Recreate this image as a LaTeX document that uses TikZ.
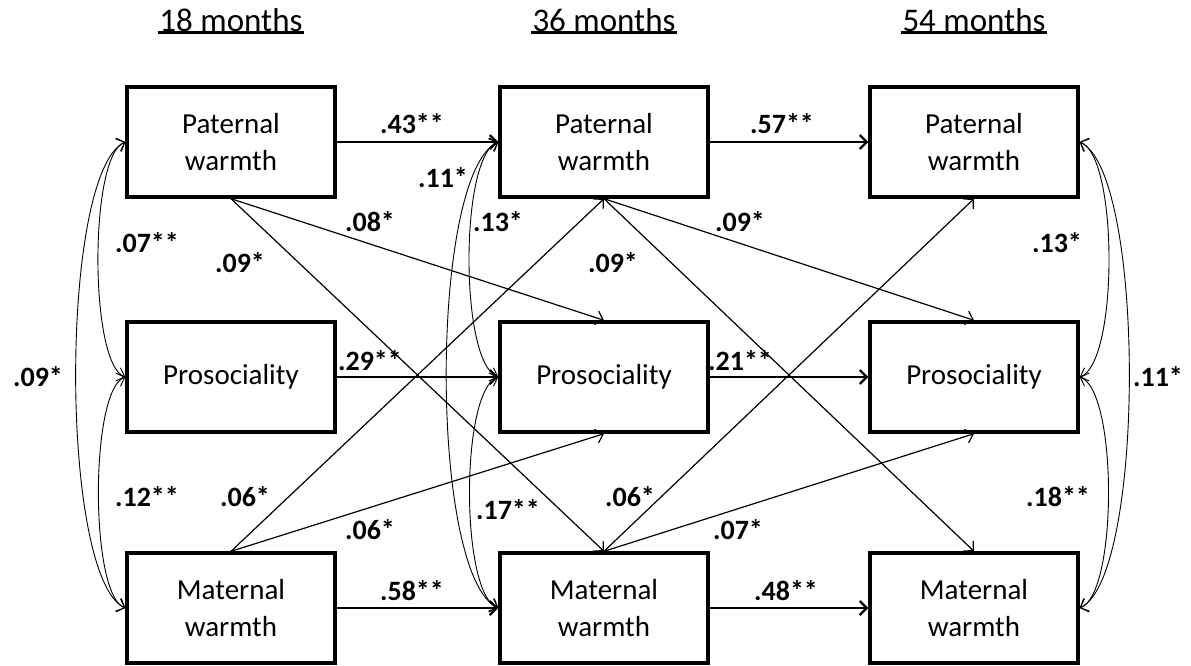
\documentclass[tikz,border=0pt]{standalone}
\usepackage{fontspec}
\setmainfont{Carlito}
\usetikzlibrary{arrows.meta}

\tikzset{
  box/.style={draw, line width=3.4pt, minimum width=208pt, minimum height=110pt,
    align=center, inner sep=0pt, font=\fontsize{29}{37}\selectfont},
  head/.style={font=\fontsize{33}{38}\selectfont, inner sep=1pt},
  ul/.style={line width=2.8pt},
  coef/.style={font=\bfseries\fontsize{28}{34}\selectfont, inner sep=1pt},
  barb/.tip={Straight Barb[length=7pt,width=14pt]},
  path/.style={-barb, line width=2.2pt},
  cross/.style={-barb, line width=1.2pt},
  cov/.style={barb-barb, line width=0.9pt}
}

\begin{document}
\begin{tikzpicture}[x=1pt,y=-1pt]
    \useasboundingbox (0,0) rectangle (1191,666);

    % waves
    \foreach \c/\x/\m in {1/231/18,2/604/36,3/974/54} {
        \node[head] (t\c) at (\x,20) {\m{} months};
        \draw[ul] (t\c.south west) -- (t\c.south east);
        \node[box] (pat\c) at (\x,142) {Paternal\\warmth};
        \node[box] (pro\c) at (\x,377) {Prosociality};
        \node[box] (mat\c) at (\x,608) {Maternal\\warmth};
    }

    % stability paths
    \draw[path] (pat1) -- (pat2);
    \draw[path] (pro1) -- (pro2);
    \draw[path] (mat1) -- (mat2);
    \draw[path] (pat2) -- (pat3);
    \draw[path] (pro2) -- (pro3);
    \draw[path] (mat2) -- (mat3);
    \node[coef] (b43) at (412,124) {.43**};
    \node[coef] (b29) at (370,361) {.29**};
    \node[coef] (b58) at (412,591) {.58**};
    \node[coef] (b57) at (782,124) {.57**};
    \node[coef] (b21) at (740,361) {.21**};
    \node[coef] (b48) at (786,591) {.48**};

    % cross-lagged paths
    \foreach \a in {1,2} {
        \pgfmathtruncatemacro{\b}{\a+1}
        \draw[cross] (pat\a.south) -- (pro\b.north);
        \draw[cross] (pat\a.south) -- (mat\b.north);
        \draw[cross] (mat\a.north) -- (pat\b.south);
        \draw[cross] (mat\a.north) -- (pro\b.south);
    }
    \node[coef] (c08) at (370,222) {.08*};
    \node[coef] (c09a) at (240,263) {.09*};
    \node[coef] (c06a) at (245,497) {.06*};
    \node[coef] (c06b) at (370,530) {.06*};
    \node[coef] (c09b) at (740,222) {.09*};
    \node[coef] (c09c) at (613,263) {.09*};
    \node[coef] (c06c) at (630,497) {.06*};
    \node[coef] (c07) at (738,530) {.07*};

    % covariances
    \draw[cov] (pat1.west) to[out=200, in=160, looseness=0.42] (pro1.west);
    \draw[cov] (pro1.west) to[out=200, in=160, looseness=0.42] (mat1.west);
    \draw[cov] (pat1.west) to[out=205, in=155, looseness=0.40] (mat1.west);
    \draw[cov] (pat2.west) to[out=200, in=160, looseness=0.45] (pro2.west);
    \draw[cov] (pro2.west) to[out=200, in=160, looseness=0.45] (mat2.west);
    \draw[cov] (pat2.west) to[out=205, in=155, looseness=0.42] (mat2.west);
    \draw[cov] (pat3.east) to[out=-20, in=20, looseness=0.45] (pro3.east);
    \draw[cov] (pro3.east) to[out=-20, in=20, looseness=0.45] (mat3.east);
    \draw[cov] (pat3.east) to[out=-25, in=25, looseness=0.40] (mat3.east);
    \node[coef] (r07) at (147,243) {.07**};
    \node[coef] (r12) at (147,497) {.12**};
    \node[coef] (r09) at (38,377) {.09*};
    \node[coef] (r13a) at (498,222) {.13*};
    \node[coef] (r17) at (508,510) {.17**};
    \node[coef] (r11a) at (443,178) {.11*};
    \node[coef] (r13b) at (1057,243) {.13*};
    \node[coef] (r18) at (1058,497) {.18**};
    \node[coef] (r11b) at (1158,377) {.11*};
\end{tikzpicture}
\end{document}
